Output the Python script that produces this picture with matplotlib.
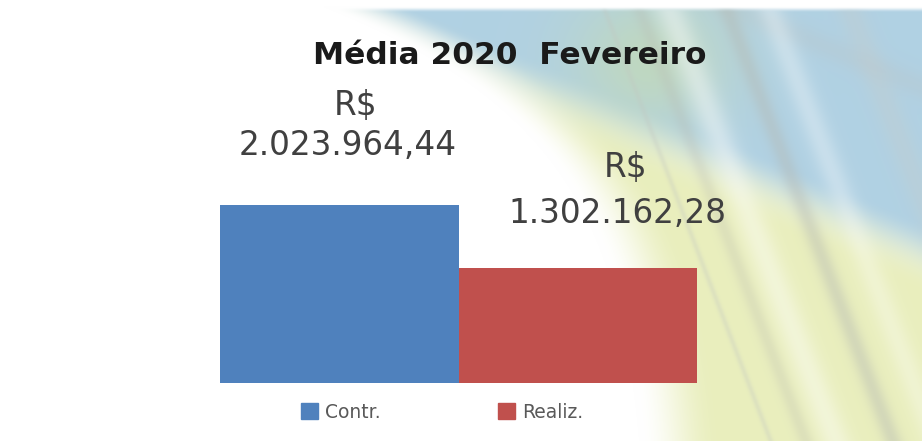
import numpy as np
import matplotlib
matplotlib.use('Agg')
import matplotlib.pyplot as plt
from matplotlib.colors import to_rgb
from matplotlib.patches import Patch

# Dados do grafico
categorias = ['Contr.', 'Realiz.']
valores = [2023964.44, 1302162.28]
rotulos = ['2.023.964,44', '1.302.162,28']
cores = ['#4F81BD', '#C0504D']
titulo = 'Média 2020  Fevereiro'

plt.rcParams['font.family'] = ['DejaVu Sans']

W, H = 922, 441


def suave(t, a, b):
    t = np.clip((t - a) / (b - a), 0, 1)
    return t * t * (3 - 2 * t)


# Fundo decorativo (faixas do slide)

def fundo():
    yy, xx = np.mgrid[0:H, 0:W].astype(float)
    img = np.ones((H, W, 3))

    def pinta(img, cor, alfa):
        c = np.array(to_rgb(cor))
        return img * (1 - alfa[..., None]) + c * alfa[..., None]

    borda = 345 + 345 * (1 - np.exp(-yy / 130))
    m_dec = suave(xx - borda, -40, 40) * suave(yy, 6, 12)
    m_azul = suave(25 + 0.42 * (xx - 360) - yy, -30, 40)

    img = pinta(img, '#a8cce0', m_dec * m_azul * 0.9)
    v = yy - 0.42 * xx
    img = pinta(img, '#b9c4c8', m_dec * m_azul * 0.3 * np.exp(-((v + 300) / 14) ** 2))

    g = np.exp(-((xx - 650) / 80) ** 2 - ((yy - 60) / 70) ** 2)
    img = pinta(img, '#c9dcaa', g * m_dec * 0.6)

    m_am = m_dec * (1 - m_azul)
    img = pinta(img, '#e2e9a8', m_am * 0.75)

    u = xx - yy / 2.6
    img = pinta(img, '#ffffff', m_dec * 0.4 * np.exp(-((u - 665) / 16) ** 2))
    img = pinta(img, '#ffffff', m_dec * 0.3 * np.exp(-((u - 765) / 14) ** 2))
    img = pinta(img, '#b4b8b2', m_dec * 0.4 * np.exp(-((u - 722) / 10) ** 2))
    img = pinta(img, '#b8b8b0', m_dec * 0.25 * np.exp(-((u - 635) / 8) ** 2))
    img = pinta(img, '#c2c6c0', m_dec * 0.3 * np.exp(-((u - 600) / 3) ** 2))
    img = pinta(img, '#c8ccc8', m_dec * 0.3 * np.exp(-((u - 845) / 15) ** 2))
    return np.clip(img, 0, 1)


fig = plt.figure(figsize=(W / 100, H / 100), dpi=100)

bg = fig.add_axes([0, 0, 1, 1])
bg.imshow(fundo(), extent=(0, W, H, 0), aspect='auto', interpolation='bilinear')
bg.axis('off')

ax = fig.add_axes([220 / W, 58 / H, 477 / W, 220 / H])
ax.patch.set_alpha(0)
ax.bar([0, 1], valores, width=1.0, color=cores)
ax.set_xlim(-0.5, 1.5)
ax.set_ylim(0, 2.5e6)
ax.axis('off')

# Rotulos de dados
desloc = [(8, 50, 90), (40, 45, 91)]
for i, (v, r) in enumerate(zip(valores, rotulos)):
    dx, dy_num, dy_rs = desloc[i]
    ax.annotate(r, xy=(i, v), xytext=(dx, dy_num), textcoords='offset pixels',
                ha='center', va='baseline', fontsize=23.5, color='#404040')
    ax.annotate('R$', xy=(i, v), xytext=(dx + 8, dy_rs), textcoords='offset pixels',
                ha='center', va='baseline', fontsize=23.5, color='#404040')

fig.text(510 / W, 1 - 64 / H, titulo, ha='center', va='baseline',
         fontsize=22.5, fontweight='bold', color='#1a1a1a')

alcas = [Patch(color=c) for c in cores]
fig.legend(alcas, categorias, loc='center', bbox_to_anchor=(442 / W, 1 - 412 / H),
           ncol=2, frameon=False, fontsize=13.5, labelcolor='#595959',
           handlelength=0.9, handleheight=0.9, handletextpad=0.35, columnspacing=6.3)

fig.savefig('out.png', dpi=100)
